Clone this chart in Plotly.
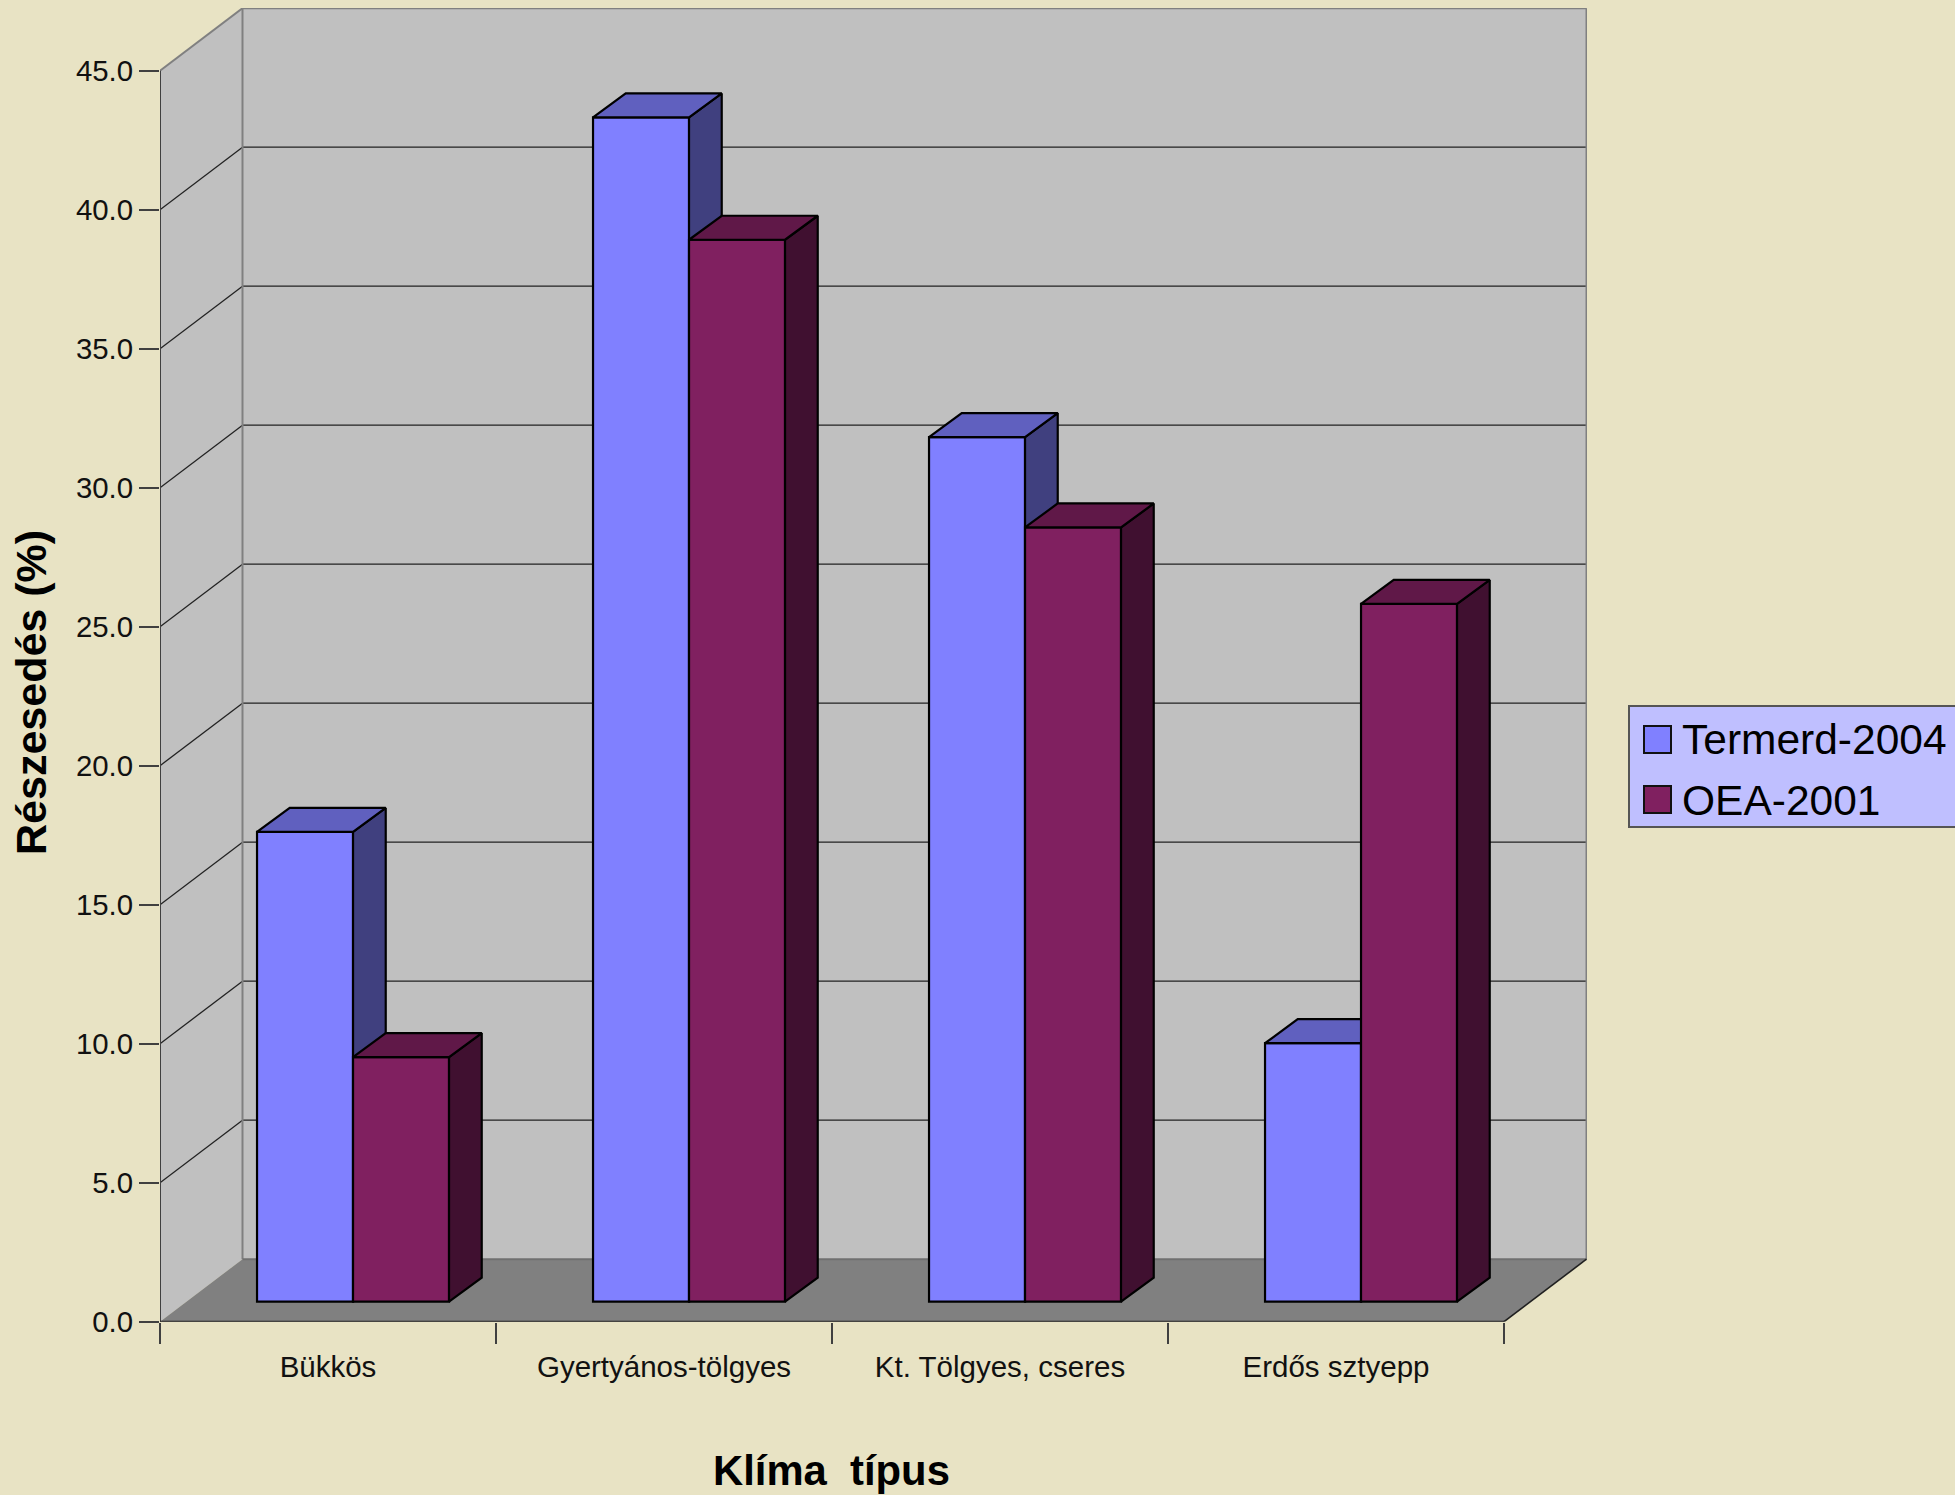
import plotly.graph_objects as go

categories = ["Bükkös", "Gyertyános-tölgyes", "Kt. Tölgyes, cseres", "Erdős sztyepp"]
termerd_2004 = [16.9, 42.6, 31.1, 9.3]
oea_2001 = [8.8, 38.2, 27.85, 25.1]
y_ticks = [0, 5, 10, 15, 20, 25, 30, 35, 40, 45]
series_names = ["Termerd-2004", "OEA-2001"]

W, H = 1955, 1495
PX_X0, PX_X1, PX_Y0, PX_Y1 = 160.0, 1587.0, 1321.7, 8.0
PX_PER_CAT, PX_PER_UNIT = 336.0, 27.8
X_MAX = (PX_X1 - PX_X0) / PX_PER_CAT
Y_MAX = (PX_Y0 - PX_Y1) / PX_PER_UNIT
WALL_DX, WALL_DY = 82.5 / PX_PER_CAT, 62.5 / PX_PER_UNIT
BAR_DX, BAR_DY = 32.7 / PX_PER_CAT, 24.0 / PX_PER_UNIT
SHIFT_X, BASE_Y = 0.0745, 20.0 / PX_PER_UNIT
BAR_W = 96.0 / PX_PER_CAT
FONT = "Liberation Sans, Arial, sans-serif"
PAPER = "#E8E3C4"
WALL, FLOOR, EDGE = "#C0C0C0", "#808080", "#808080"
DARK = "#404040"


def px(x):
    return x / W


def py(y):
    return 1 - y / H


fig = go.Figure()
centers = [i + 0.5 + SHIFT_X for i in range(len(categories))]


def add_series(values, name, offset, front, top, side, xa, ya):
    fig.add_trace(go.Bar(x=centers, y=values, base=BASE_Y, width=BAR_W, offset=offset, name=name,
                         marker=dict(color=front, line=dict(color="black", width=2.2)),
                         xaxis=xa, yaxis=ya, showlegend=False, hoverinfo="skip"))
    tx, ty, sx, sy = [], [], [], []
    for c, v in zip(centers, values):
        l, r = c + offset, c + offset + BAR_W
        t = v + BASE_Y
        tx += [l, l + BAR_DX, r + BAR_DX, r, l, None]
        ty += [t, t + BAR_DY, t + BAR_DY, t, t, None]
        sx += [r, r + BAR_DX, r + BAR_DX, r, r, None]
        sy += [t, t + BAR_DY, BASE_Y + BAR_DY, BASE_Y, t, None]
    for xs, ys, col in ((sx, sy, side), (tx, ty, top)):
        fig.add_trace(go.Scatter(x=xs, y=ys, mode="lines", fill="toself", fillcolor=col,
                                 line=dict(color="black", width=2.2), xaxis=xa, yaxis=ya,
                                 showlegend=False, hoverinfo="skip"))


add_series(termerd_2004, series_names[0], -BAR_W, "#8080FF", "#6060BF", "#40407F", "x", "y")
add_series(oea_2001, series_names[1], 0.0, "#802060", "#601848", "#401030", "x2", "y2")

shapes = []
n = len(categories)
top = y_ticks[-1]


def poly(xs, ys, fill, line=None, lw=0):
    d = "M" + "L".join(f"{a},{b}" for a, b in zip(xs, ys)) + "Z"
    shapes.append(dict(type="path", path=d, xref="x", yref="y", fillcolor=fill, layer="below",
                       line=dict(color=line or fill, width=lw)))


def seg(x0, y0, x1, y1, color, w):
    shapes.append(dict(type="line", x0=x0, y0=y0, x1=x1, y1=y1, xref="x", yref="y", layer="below",
                       line=dict(color=color, width=w)))


# walls and floor
poly([WALL_DX, n + WALL_DX, n + WALL_DX, WALL_DX], [WALL_DY, WALL_DY, top + WALL_DY, top + WALL_DY], WALL)
poly([0, WALL_DX, WALL_DX, 0], [0, WALL_DY, top + WALL_DY, top], WALL)
poly([0, n, n + WALL_DX, WALL_DX], [0, 0, WALL_DY, WALL_DY], FLOOR)
# gridlines
for t in y_ticks[1:-1]:
    seg(0, t, WALL_DX, t + WALL_DY, "#222222", 1.3)
    seg(WALL_DX, t + WALL_DY, n + WALL_DX, t + WALL_DY, "#222222", 1.3)
# wall edges
seg(WALL_DX, WALL_DY, WALL_DX, top + WALL_DY, EDGE, 2)
seg(n + WALL_DX, WALL_DY, n + WALL_DX, top + WALL_DY, EDGE, 2)
seg(WALL_DX, top + WALL_DY, n + WALL_DX, top + WALL_DY, EDGE, 2)
seg(0, top, WALL_DX, top + WALL_DY, EDGE, 2)
seg(WALL_DX, WALL_DY, n + WALL_DX, WALL_DY, "#707070", 2)
# axes
seg(0, 0, 0, top, DARK, 2)
seg(0, 0, n, 0, "#202020", 2)
seg(n, 0, n + WALL_DX, WALL_DY, "#202020", 1.6)


# legend drawn on the paper
def rect(x0, y0, x1, y1, fill, line, lw):
    shapes.append(dict(type="rect", xref="paper", yref="paper", x0=px(x0), x1=px(x1), y0=py(y0), y1=py(y1),
                       fillcolor=fill, line=dict(color=line, width=lw), layer="above"))


rect(1629, 706, 1975, 827, "#BFBFFF", "#555555", 2)
rect(1644, 726, 1671, 753, "#8080FF", "#111111", 2)
rect(1644, 786, 1671, 813, "#802060", "#111111", 2)

annotations = [
    dict(text=series_names[0], x=px(1680), y=py(739), xref="paper", yref="paper", xanchor="left", yanchor="middle",
         showarrow=False, font=dict(size=42.5, family=FONT, color="black")),
    dict(text=series_names[1], x=px(1680), y=py(800), xref="paper", yref="paper", xanchor="left", yanchor="middle",
         showarrow=False, font=dict(size=42.5, family=FONT, color="black")),
    dict(text="<b>Részesedés (%)</b>", x=px(31), y=py(693), xref="paper", yref="paper", textangle=-90,
         xanchor="center", yanchor="middle", showarrow=False, font=dict(size=43, family=FONT, color="black")),
    dict(text="<b>Klíma\u00a0\u00a0típus</b>", x=px(831), y=py(1470), xref="paper", yref="paper",
         xanchor="center", yanchor="middle", showarrow=False, font=dict(size=41.8, family=FONT, color="black")),
]

x_dom = [px(PX_X0), px(PX_X1)]
y_dom = [py(PX_Y0), py(PX_Y1)]
fig.update_layout(
    width=W, height=H, margin=dict(l=0, r=0, t=0, b=0, pad=0),
    paper_bgcolor=PAPER, plot_bgcolor="rgba(0,0,0,0)", barmode="overlay", showlegend=False,
    shapes=shapes, annotations=annotations,
    font=dict(family=FONT, color="black"),
    xaxis=dict(domain=x_dom, range=[0, X_MAX], tickmode="array", tickvals=[i + 0.5 for i in range(n)],
               ticktext=categories, ticks="", showgrid=False, zeroline=False, showline=False,
               tickfont=dict(size=29.5, family=FONT, color="#111111"), ticklabelstandoff=25,
               tickangle=0, automargin=False,
               minor=dict(tickmode="array", tickvals=list(range(n + 1)), ticks="outside", ticklen=21,
                          tickwidth=1.6, tickcolor=DARK, showgrid=False)),
    yaxis=dict(domain=y_dom, range=[0, Y_MAX], tickmode="array", tickvals=y_ticks, tickformat=".1f",
               ticks="outside", ticklen=20, tickwidth=1.6, tickcolor=DARK, showgrid=False, zeroline=False,
               showline=False, tickfont=dict(size=29.4, family=FONT, color="#111111"), automargin=False),
    xaxis2=dict(overlaying="x", domain=x_dom, range=[0, X_MAX], visible=False),
    yaxis2=dict(overlaying="y", domain=y_dom, range=[0, Y_MAX], visible=False),
)

fig.write_html("out.html", config=dict(displayModeBar=False),
               post_script="document.body.style.margin='0';document.body.style.background='#E8E3C4';")
